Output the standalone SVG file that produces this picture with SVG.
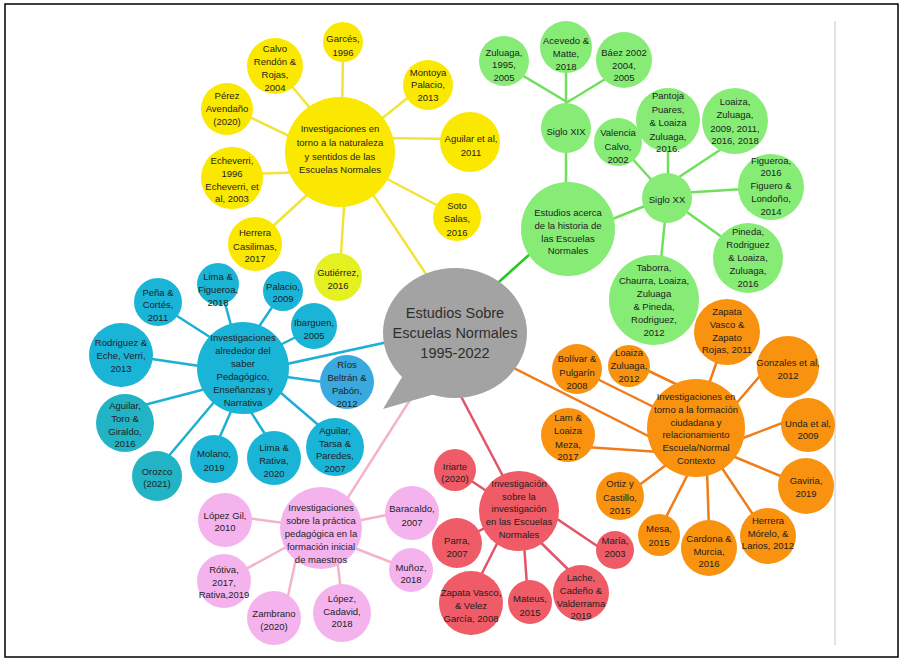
<svg xmlns="http://www.w3.org/2000/svg" width="903" height="662" viewBox="0 0 903 662">
<style>
text{font-family:"Liberation Sans",Arial,sans-serif;font-size:9.5px;fill:#1e1e1e;text-anchor:middle;dominant-baseline:central}
.ct{font-size:14.5px;fill:#2e2e2e}
.y{fill:#fbe800}.yg{fill:#e4f020}.g{fill:#86ec76}.b{fill:#1ab4d7}.b2{fill:#3aa9df}.b3{fill:#22b3c4}
.o{fill:#f8920f}.r{fill:#ef5b66}.p{fill:#f5b3ee}.gr{fill:#a3a3a3}
.ly line{stroke:#f2e23a;stroke-width:2.5}.lg line{stroke:#70e05c;stroke-width:2.5}
.lb line{stroke:#1cb0d4;stroke-width:2.5}.lo line{stroke:#f07c1a;stroke-width:2.5}
.lr line{stroke:#e25468;stroke-width:2.5}.lp line{stroke:#f4b4c8;stroke-width:2.5}
</style>
<rect x="0" y="0" width="903" height="662" fill="#fff"/>
<rect x="5" y="4" width="893" height="653" fill="#fff" stroke="#000" stroke-width="1.5"/>
<line x1="835" y1="21" x2="835" y2="645" stroke="#e2e2e2" stroke-width="2"/>
<g id="connectors">
<g class="ly">
<line x1="343" y1="50" x2="342" y2="120"/><line x1="280" y1="72" x2="320" y2="120"/>
<line x1="420" y1="88" x2="370" y2="128"/><line x1="235" y1="110" x2="310" y2="146"/>
<line x1="380" y1="138" x2="460" y2="139"/><line x1="250" y1="174" x2="310" y2="172"/>
<line x1="370" y1="170" x2="450" y2="212"/><line x1="260" y1="238" x2="320" y2="183"/>
<line x1="340" y1="270" x2="345" y2="190"/><line x1="360" y1="175" x2="430" y2="280"/>
</g>
<g class="lg">
<line x1="505" y1="65" x2="567" y2="102"/><line x1="566" y1="50" x2="566" y2="110"/>
<line x1="620" y1="70" x2="566" y2="103"/><line x1="566" y1="130" x2="566" y2="200"/>
<line x1="590" y1="228" x2="660" y2="200"/><line x1="620" y1="145" x2="665" y2="195"/>
<line x1="668" y1="130" x2="668" y2="195"/><line x1="735" y1="140" x2="667" y2="185"/>
<line x1="680" y1="193" x2="760" y2="188"/><line x1="670" y1="200" x2="740" y2="250"/>
<line x1="666" y1="210" x2="660" y2="270"/>
<line x1="540" y1="245" x2="490" y2="290" style="stroke:#22c822"/>
</g>
<g class="lb">
<line x1="220" y1="285" x2="235" y2="340"/><line x1="283" y1="291" x2="250" y2="340"/>
<line x1="160" y1="305" x2="230" y2="350"/><line x1="314" y1="328" x2="260" y2="355"/>
<line x1="125" y1="355" x2="240" y2="372"/><line x1="250" y1="372" x2="345" y2="385"/>
<line x1="125" y1="410" x2="240" y2="380"/><line x1="157" y1="470" x2="220" y2="395"/>
<line x1="214" y1="450" x2="236" y2="400"/><line x1="272" y1="445" x2="240" y2="395"/>
<line x1="330" y1="435" x2="260" y2="375"/><line x1="250" y1="372" x2="420" y2="335"/>
</g>
<g class="lo">
<line x1="500" y1="361" x2="670" y2="447"/><line x1="577" y1="369" x2="680" y2="420"/>
<line x1="630" y1="362" x2="680" y2="386"/><line x1="727" y1="332" x2="700" y2="410"/>
<line x1="765" y1="370" x2="735" y2="405"/><line x1="790" y1="420" x2="738" y2="440"/>
<line x1="585" y1="447" x2="660" y2="452"/><line x1="630" y1="492" x2="670" y2="462"/>
<line x1="662" y1="525" x2="690" y2="470"/><line x1="709" y1="530" x2="707" y2="470"/>
<line x1="760" y1="525" x2="718" y2="462"/><line x1="795" y1="482" x2="730" y2="455"/>
</g>
<g class="lr">
<line x1="455" y1="470" x2="500" y2="500"/><line x1="457" y1="542" x2="519" y2="511"/>
<line x1="520" y1="494" x2="615" y2="558"/><line x1="471" y1="595" x2="510" y2="518"/>
<line x1="528" y1="600" x2="522" y2="515"/><line x1="530" y1="532" x2="585" y2="586"/>
<line x1="455" y1="385" x2="505" y2="480"/>
</g>
<g class="lp">
<line x1="225" y1="515" x2="321" y2="528"/><line x1="321" y1="528" x2="412" y2="510"/>
<line x1="224" y1="581" x2="321" y2="528"/><line x1="321" y1="535" x2="411" y2="570"/>
<line x1="285" y1="610" x2="300" y2="540"/><line x1="342" y1="600" x2="335" y2="540"/>
<line x1="340" y1="510" x2="410" y2="400"/>
</g>
</g>

<g id="center">
<ellipse class="gr" cx="455" cy="333" rx="72" ry="65"/>
<polygon class="gr" points="405,372 383,409 442,392"/>
<text class="ct" x="455" y="313">Estudios Sobre</text>
<text class="ct" x="455" y="333">Escuelas Normales</text>
<text class="ct" x="455" y="353">1995-2022</text>
</g>

<g id="hub-yellow"><circle class="y" cx="340" cy="152" r="55"/>
<text x="340" y="128">Investigaciones en</text><text x="340" y="142">torno a la naturaleza</text><text x="340" y="156">y sentidos de las</text><text x="340" y="169">Escuelas Normales</text></g>
<g id="garces"><circle class="y" cx="343" cy="42" r="20"/><text x="343" y="38">Garcés,</text><text x="343" y="52">1996</text></g>
<g id="calvo"><circle class="y" cx="275" cy="66" r="28"/><text x="275" y="48">Calvo</text><text x="275" y="61">Rendón &amp;</text><text x="275" y="74">Rojas,</text><text x="275" y="87">2004</text></g>
<g id="montoya"><circle class="y" cx="428" cy="85" r="25"/><text x="428" y="72">Montoya</text><text x="428" y="84">Palacio,</text><text x="428" y="97">2013</text></g>
<g id="perez"><circle class="y" cx="227" cy="109" r="26"/><text x="227" y="95">Pérez</text><text x="227" y="108">Avendaño</text><text x="227" y="121">(2020)</text></g>
<g id="aguilar-et-al"><circle class="y" cx="470" cy="142" r="30"/><text x="471" y="138">Aguilar et al,</text><text x="471" y="152">2011</text></g>
<g id="echeverri"><circle class="y" cx="232" cy="178" r="31"/><text x="232" y="160">Echeverri,</text><text x="232" y="173">1996</text><text x="232" y="186">Echeverri, et</text><text x="232" y="198">al, 2003</text></g>
<g id="soto"><circle class="y" cx="457" cy="217" r="24"/><text x="457" y="205">Soto</text><text x="457" y="218">Salas,</text><text x="457" y="232">2016</text></g>
<g id="herrera-casilimas"><circle class="y" cx="255" cy="244" r="27"/><text x="255" y="232">Herrera</text><text x="255" y="246">Casilimas,</text><text x="255" y="258">2017</text></g>
<g id="gutierrez"><circle class="yg" cx="338" cy="277" r="24"/><text x="338" y="272">Gutiérrez,</text><text x="338" y="285">2016</text></g>

<g id="hub-green"><circle class="g" cx="568" cy="229" r="47"/>
<text x="568" y="212">Estudios acerca</text><text x="568" y="225">de la historia de</text><text x="568" y="238">las Escuelas</text><text x="568" y="250">Normales</text></g>
<g id="siglo-xix"><circle class="g" cx="566" cy="128" r="25"/><text x="566" y="131">Siglo XIX</text></g>
<g id="zuluaga"><circle class="g" cx="504" cy="61" r="25"/><text x="504" y="52">Zuluaga,</text><text x="504" y="64">1995,</text><text x="504" y="77">2005</text></g>
<g id="acevedo"><circle class="g" cx="566" cy="47" r="26"/><text x="566" y="40">Acevedo &amp;</text><text x="566" y="53">Matte,</text><text x="566" y="66">2018</text></g>
<g id="baez"><circle class="g" cx="624" cy="60" r="28"/><text x="624" y="52">Báez 2002</text><text x="624" y="65">2004,</text><text x="624" y="77">2005</text></g>
<g id="valencia"><circle class="g" cx="618" cy="142" r="24"/><text x="618" y="132">Valencia</text><text x="618" y="146">Calvo,</text><text x="618" y="159">2002</text></g>
<g id="pantoja"><circle class="g" cx="668" cy="120" r="32"/><text x="668" y="95">Pantoja</text><text x="668" y="109">Puares,</text><text x="668" y="122">&amp; Loaiza</text><text x="668" y="136">Zuluaga,</text><text x="668" y="148">2016.</text></g>
<g id="loaiza-zuluaga-2009"><circle class="g" cx="735" cy="121" r="33"/><text x="735" y="101">Loaiza,</text><text x="735" y="114">Zuluaga,</text><text x="735" y="128">2009, 2011,</text><text x="735" y="140">2016, 2018</text></g>
<g id="siglo-xx"><circle class="g" cx="667" cy="198" r="25"/><text x="667" y="199">Siglo XX</text></g>
<g id="figueroa"><circle class="g" cx="771" cy="187" r="33"/><text x="771" y="160">Figueroa,</text><text x="771" y="172">2016</text><text x="771" y="185">Figuero &amp;</text><text x="771" y="198">Londoño,</text><text x="771" y="211">2014</text></g>
<g id="pineda"><circle class="g" cx="748" cy="258" r="35"/><text x="748" y="231">Pineda,</text><text x="748" y="244">Rodriguez</text><text x="748" y="257">&amp; Loaiza,</text><text x="748" y="270">Zuluaga,</text><text x="748" y="283">2016</text></g>
<g id="taborra"><circle class="g" cx="654" cy="300" r="45"/><text x="654" y="267">Taborra,</text><text x="654" y="280">Chaurra, Loaiza,</text><text x="654" y="293">Zuluaga</text><text x="654" y="306">&amp; Pineda,</text><text x="654" y="319">Rodriguez,</text><text x="654" y="332">2012</text></g>

<g id="hub-blue"><circle class="b" cx="243" cy="368" r="46"/>
<text x="243" y="337">Investigaciones</text><text x="243" y="350">alrededor del</text><text x="243" y="363">saber</text><text x="243" y="376">Pedagógico,</text><text x="243" y="389">Enseñanzas y</text><text x="243" y="402">Narrativa</text></g>
<g id="lima-figueroa"><circle class="b" cx="218" cy="284" r="21"/><text x="218" y="276">Lima &amp;</text><text x="218" y="289">Figueroa,</text><text x="218" y="302">2018</text></g>
<g id="palacio"><circle class="b" cx="283" cy="291" r="20"/><text x="283" y="286">Palacio,</text><text x="283" y="298">2009</text></g>
<g id="pena"><circle class="b" cx="158" cy="302" r="24"/><text x="158" y="292">Peña &amp;</text><text x="158" y="304">Cortés,</text><text x="158" y="317">2011</text></g>
<g id="ibarguen"><circle class="b" cx="314" cy="326" r="23"/><text x="314" y="322">Ibarguen,</text><text x="314" y="335">2005</text></g>
<g id="rodriguez"><circle class="b" cx="121" cy="355" r="32"/><text x="121" y="342">Rodriguez &amp;</text><text x="121" y="355">Eche, Verri,</text><text x="121" y="368">2013</text></g>
<g id="rios"><circle class="b2" cx="347" cy="382" r="27"/><text x="347" y="364">Ríos</text><text x="347" y="377">Beltrán &amp;</text><text x="347" y="390">Pabón,</text><text x="347" y="403">2012</text></g>
<g id="aguilar-toro"><circle class="b3" cx="125" cy="423" r="29"/><text x="125" y="405">Aguilar,</text><text x="125" y="418">Toro &amp;</text><text x="125" y="431">Giraldo,</text><text x="125" y="443">2016</text></g>
<g id="aguilar-tarsa"><circle class="b" cx="335" cy="447" r="29"/><text x="335" y="430">Aguilar,</text><text x="335" y="443">Tarsa &amp;</text><text x="335" y="455">Paredes,</text><text x="335" y="468">2007</text></g>
<g id="molano"><circle class="b" cx="214" cy="459" r="24"/><text x="214" y="453">Molano,</text><text x="214" y="467">2019</text></g>
<g id="lima-rativa"><circle class="b" cx="274" cy="458" r="27"/><text x="274" y="447">Lima &amp;</text><text x="274" y="460">Rativa,</text><text x="274" y="473">2020</text></g>
<g id="orozco"><circle class="b3" cx="157" cy="476" r="25"/><text x="157" y="471">Orozco</text><text x="157" y="483">(2021)</text></g>

<g id="hub-orange"><circle class="o" cx="696" cy="428" r="49"/>
<text x="696" y="396">Investigaciones en</text><text x="696" y="409">torno a la formación</text><text x="696" y="422">ciudadana y</text><text x="696" y="434">relacionamiento</text><text x="696" y="447">Escuela/Normal</text><text x="696" y="460">Contexto</text></g>
<g id="zapata-rojas"><circle class="o" cx="727" cy="332" r="33"/><text x="727" y="311">Zapata</text><text x="727" y="324">Vasco &amp;</text><text x="727" y="337">Zapato</text><text x="727" y="349">Rojas, 2011</text></g>
<g id="bolivar"><circle class="o" cx="577" cy="369" r="25"/><text x="577" y="358">Bolívar &amp;</text><text x="577" y="372">Pulgarín</text><text x="577" y="385">2008</text></g>
<g id="loaiza-zuluaga-2012"><circle class="o" cx="629" cy="366" r="21"/><text x="629" y="352">Loaiza</text><text x="629" y="365">Zuluaga,</text><text x="629" y="378">2012</text></g>
<g id="gonzales"><circle class="o" cx="788" cy="367" r="31"/><text x="788" y="362">Gonzales et al,</text><text x="788" y="375">2012</text></g>
<g id="unda"><circle class="o" cx="808" cy="425" r="27"/><text x="808" y="423">Unda et al,</text><text x="808" y="435">2009</text></g>
<g id="lam"><circle class="o" cx="568" cy="435" r="27"/><text x="568" y="417">Lam &amp;</text><text x="568" y="430">Loaiza</text><text x="568" y="444">Meza,</text><text x="568" y="456">2017</text></g>
<g id="gaviria"><circle class="o" cx="806" cy="486" r="28"/><text x="806" y="480">Gaviria,</text><text x="806" y="493">2019</text></g>
<g id="ortiz"><circle class="o" cx="620" cy="496" r="24"/><text x="620" y="483">Ortiz y</text><text x="620" y="497">Castillo,</text><text x="620" y="510">2015</text></g>
<g id="herrera-morelo"><circle class="o" cx="768" cy="536" r="28"/><text x="768" y="520">Herrera</text><text x="768" y="533">Mórelo, &amp;</text><text x="768" y="545">Larios, 2012</text></g>
<g id="mesa"><circle class="o" cx="659" cy="535" r="21"/><text x="659" y="528">Mesa,</text><text x="659" y="542">2015</text></g>
<g id="cardona"><circle class="o" cx="709" cy="548" r="28"/><text x="709" y="538">Cardona &amp;</text><text x="709" y="551">Murcia,</text><text x="709" y="563">2016</text></g>

<g id="hub-red"><circle class="r" cx="519" cy="511" r="40"/>
<text x="519" y="483">Investigación</text><text x="519" y="496">sobre la</text><text x="519" y="508">investigación</text><text x="519" y="521">en las Escuelas</text><text x="519" y="534">Normales</text></g>
<g id="iriarte"><circle class="r" cx="455" cy="470" r="21"/><text x="455" y="466">Iriarte</text><text x="455" y="478">(2020)</text></g>
<g id="parra"><circle class="r" cx="457" cy="543" r="25"/><text x="457" y="540">Parra,</text><text x="457" y="553">2007</text></g>
<g id="maria"><circle class="r" cx="615" cy="550" r="19"/><text x="615" y="540">María,</text><text x="615" y="553">2003</text></g>
<g id="zapata-velez"><circle class="r" cx="471" cy="603" r="32"/><text x="471" y="592">Zapata Vasco,</text><text x="471" y="605">&amp; Velez</text><text x="471" y="618">García, 2008</text></g>
<g id="mateus"><circle class="r" cx="530" cy="602" r="22"/><text x="530" y="598">Mateus,</text><text x="530" y="612">2015</text></g>
<g id="lache"><circle class="r" cx="581" cy="593" r="28"/><text x="581" y="577">Lache,</text><text x="581" y="590">Cadeño &amp;</text><text x="581" y="603">Valderrama</text><text x="581" y="615">2019</text></g>

<g id="hub-pink"><circle class="p" cx="321" cy="528" r="41"/>
<text x="321" y="507">Investigaciones</text><text x="321" y="520">sobre la práctica</text><text x="321" y="533">pedagógica en la</text><text x="321" y="546">formación inicial</text><text x="321" y="559">de maestros</text></g>
<g id="lopez-gil"><circle class="p" cx="225" cy="520" r="27"/><text x="225" y="515">López Gil,</text><text x="225" y="527">2010</text></g>
<g id="baracaldo"><circle class="p" cx="412" cy="513" r="27"/><text x="412" y="508">Baracaldo,</text><text x="412" y="522">2007</text></g>
<g id="rotiva"><circle class="p" cx="224" cy="581" r="27"/><text x="224" y="569">Rótiva,</text><text x="224" y="582">2017,</text><text x="224" y="594">Rativa,2019</text></g>
<g id="munoz"><circle class="p" cx="411" cy="570" r="22"/><text x="411" y="567">Muñoz,</text><text x="411" y="579">2018</text></g>
<g id="zambrano"><circle class="p" cx="274" cy="618" r="27"/><text x="274" y="613">Zambrano</text><text x="274" y="626">(2020)</text></g>
<g id="lopez-cadavid"><circle class="p" cx="342" cy="613" r="29"/><text x="342" y="598">López,</text><text x="342" y="611">Cadavid,</text><text x="342" y="623">2018</text></g>
</svg>
